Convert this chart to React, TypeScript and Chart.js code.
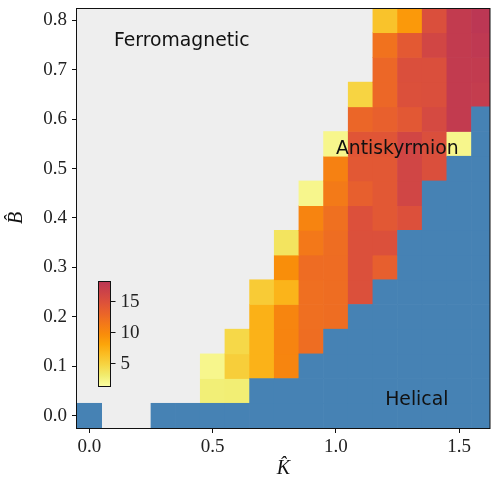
import React, { useEffect, useRef } from 'react';
import { Chart, registerables } from 'chart.js';

Chart.register(...registerables);

// ---------------- data ----------------
const kValues = [0, 0.1, 0.2, 0.3, 0.4, 0.5, 0.6, 0.7, 0.8, 0.9, 1.0, 1.1, 1.2, 1.3, 1.4, 1.5, 1.6];
const bValues = [0, 0.05, 0.1, 0.15, 0.2, 0.25, 0.3, 0.35, 0.4, 0.45, 0.5, 0.55, 0.6, 0.65, 0.7, 0.75, 0.8];

// 'F' = ferromagnetic, 'H' = helical, number = antiskyrmion colour value
const F = 'F';
const H = 'H';
const rowB000 = [H, F, F, H, H, H, H, H, H, H, H, H, H, H, H, H, H];
const rowB005 = [F, F, F, F, F, 2.7, 2.8, H, H, H, H, H, H, H, H, H, H];
const rowB010 = [F, F, F, F, F, 2.0, 5.2, 7.1, 10.2, H, H, H, H, H, H, H, H];
const rowB015 = [F, F, F, F, F, F, 4.5, 7.1, 10.3, 12.2, H, H, H, H, H, H, H];
const rowB020 = [F, F, F, F, F, F, F, 7.2, 10.2, 12.1, 12.2, H, H, H, H, H, H];
const rowB025 = [F, F, F, F, F, F, F, 5.4, 7.0, 12.1, 12.2, 14.9, H, H, H, H, H];
const rowB030 = [F, F, F, F, F, F, F, F, 9.5, 12.3, 12.3, 14.9, 13.4, H, H, H, H];
const rowB035 = [F, F, F, F, F, F, F, F, 3.6, 11.3, 12.2, 14.9, 14.9, H, H, H, H];
const rowB040 = [F, F, F, F, F, F, F, F, F, 10.3, 12.0, 14.8, 14.1, 14.8, H, H, H];
const rowB045 = [F, F, F, F, F, F, F, F, F, 2.0, 11.2, 13.4, 14.1, 16.1, H, H, H];
const rowB050 = [F, F, F, F, F, F, F, F, F, F, 10.6, 14.1, 14.1, 16.1, 15.0, H, H];
const rowB055 = [F, F, F, F, F, F, F, F, F, F, 2.0, 14.3, 14.3, 16.0, 15.0, 2.0, H];
const rowB060 = [F, F, F, F, F, F, F, F, F, F, F, 12.8, 13.3, 14.1, 15.6, 17.5, H];
const rowB065 = [F, F, F, F, F, F, F, F, F, F, F, 4.8, 12.7, 14.9, 15.0, 17.5, 17.3];
const rowB070 = [F, F, F, F, F, F, F, F, F, F, F, F, 12.7, 15.0, 15.0, 17.5, 17.5];
const rowB075 = [F, F, F, F, F, F, F, F, F, F, F, F, 11.8, 14.0, 16.0, 17.5, 17.8];
const rowB080 = [F, F, F, F, F, F, F, F, F, F, F, F, 6.0, 8.8, 15.0, 17.5, 18.2];

const phaseRows = [
  rowB000, rowB005, rowB010, rowB015, rowB020, rowB025, rowB030, rowB035, rowB040,
  rowB045, rowB050, rowB055, rowB060, rowB065, rowB070, rowB075, rowB080,
];

const xTicks = [0, 0.5, 1.0, 1.5];
const yTicks = [0, 0.1, 0.2, 0.3, 0.4, 0.5, 0.6, 0.7, 0.8];
const xRange = [-0.05, 1.625];
const yRange = [-0.025, 0.825];
const colorbarTicks = [5, 10, 15];
const colorbarRange = [1.2, 18.1];

const phaseLabels = [
  { text: 'Ferromagnetic', k: 0.1, b: 0.749 },
  { text: 'Antiskyrmion', k: 1.0, b: 0.53 },
  { text: 'Helical', k: 1.2, b: 0.021 },
];

// ---------------- style ----------------
const CMAP = ['#fcffa4', '#f1ed71', '#f6d746', '#fabf26', '#fca50a', '#f98c0a', '#f37819', '#ea632a', '#dd513a', '#cd4347', '#bc3754'];
const HELICAL_COLOR = '#4682b4';
const BG_COLOR = '#eeeeee';
const TICK_FONT = { family: 'Liberation Serif', size: 19 };
const TITLE_FONT = { family: 'Liberation Serif', style: 'italic' as const, size: 20, lineHeight: 1 };

function hexToRgb(h: string) {
  const n = parseInt(h.slice(1), 16);
  return [(n >> 16) & 255, (n >> 8) & 255, n & 255];
}
function colorAt(n: number) {
  const t = Math.max(0, Math.min(1, n)) * (CMAP.length - 1);
  const i = Math.min(CMAP.length - 2, Math.floor(t));
  const f = t - i;
  const a = hexToRgb(CMAP[i]);
  const b = hexToRgb(CMAP[i + 1]);
  const c = a.map((v, j) => Math.round(v + (b[j] - v) * f));
  return `rgb(${c[0]},${c[1]},${c[2]})`;
}
function colorFor(v: number) {
  return colorAt((v - colorbarRange[0]) / (colorbarRange[1] - colorbarRange[0]));
}

const half = (bValues[1] - bValues[0]) / 2;
const helicalCells: any[] = [];
const skyrmionCells: any[] = [];
phaseRows.forEach((row, i) => {
  row.forEach((cell, j) => {
    const pt = { x: kValues[j], y: [bValues[i] - half, bValues[i] + half], v: cell };
    if (cell === H) helicalCells.push(pt);
    else if (typeof cell === 'number') skyrmionCells.push(pt);
  });
});

const decorPlugin = {
  id: 'decor',
  beforeDraw(chart: any) {
    const { ctx, chartArea: a } = chart;
    ctx.save();
    ctx.fillStyle = BG_COLOR;
    ctx.fillRect(a.left, a.top, a.right - a.left, a.bottom - a.top);
    ctx.restore();
  },
  afterDatasetsDraw(chart: any) {
    const { ctx, scales } = chart;
    ctx.save();
    ctx.font = '18.8px "DejaVu Sans"';
    ctx.fillStyle = '#111';
    ctx.textAlign = 'left';
    ctx.textBaseline = 'alphabetic';
    phaseLabels.forEach((l) => {
      ctx.fillText(l.text, scales.x.getPixelForValue(l.k), scales.y.getPixelForValue(l.b));
    });
    ctx.restore();
  },
  afterDraw(chart: any) {
    const { ctx, chartArea: a } = chart;
    const w = a.right - a.left;
    const h = a.bottom - a.top;
    ctx.save();
    // spines
    ctx.strokeStyle = '#111';
    ctx.lineWidth = 1;
    ctx.strokeRect(a.left - 0.5, a.top + 0.5, w + 0.5, h);
    // colour bar
    const cl = Math.round(a.left + 0.05 * w) + 0.5;
    const cw = Math.round(0.03 * w);
    const cb = Math.round(a.bottom - 0.1 * h) + 0.5;
    const ch = Math.round(0.25 * h);
    const ct = cb - ch;
    const grad = ctx.createLinearGradient(0, cb, 0, ct);
    for (let i = 0; i <= 40; i++) grad.addColorStop(i / 40, colorAt(i / 40));
    ctx.fillStyle = grad;
    ctx.fillRect(cl, ct, cw, ch);
    ctx.strokeStyle = '#111';
    ctx.strokeRect(cl, ct, cw, ch);
    ctx.font = `${TICK_FONT.size}px "${TICK_FONT.family}"`;
    ctx.fillStyle = '#222';
    ctx.textAlign = 'left';
    ctx.textBaseline = 'middle';
    colorbarTicks.forEach((v) => {
      const yy = cb - ((v - colorbarRange[0]) / (colorbarRange[1] - colorbarRange[0])) * ch;
      const yp = Math.round(yy) + 0.5;
      ctx.beginPath();
      ctx.moveTo(cl + cw, yp);
      ctx.lineTo(cl + cw + 5, yp);
      ctx.stroke();
      ctx.fillText(String(v), cl + cw + 10, yy + 1);
    });
    ctx.restore();
  },
};

export default function App() {
  const ref = useRef<HTMLCanvasElement | null>(null);
  useEffect(() => {
    if (!ref.current) return;
    const axisCommon = {
      type: 'linear' as const,
      offset: false,
      grid: { drawOnChartArea: false, drawTicks: true, tickLength: 5, color: '#111', offset: false },
      border: { display: false },
    };
    const chart = new Chart(ref.current, {
      type: 'bar',
      data: {
        datasets: [
          {
            label: 'Helical',
            data: helicalCells,
            backgroundColor: HELICAL_COLOR,
            borderWidth: 0,
            grouped: false,
            categoryPercentage: 1,
            barPercentage: 1,
          } as any,
          {
            label: 'Antiskyrmion',
            data: skyrmionCells,
            backgroundColor: (c: any) => (c.raw && typeof c.raw.v === 'number' ? colorFor(c.raw.v) : '#fca50a'),
            borderWidth: 0,
            grouped: false,
            categoryPercentage: 1,
            barPercentage: 1,
          } as any,
        ],
      },
      options: {
        responsive: false,
        maintainAspectRatio: false,
        animation: false,
        devicePixelRatio: 1,
        layout: { padding: { left: 0, top: 8, right: 1, bottom: 0 } },
        plugins: { legend: { display: false }, tooltip: { enabled: false } },
        scales: {
          x: {
            ...axisCommon,
            min: xRange[0],
            max: xRange[1],
            afterBuildTicks: (s: any) => { s.ticks = xTicks.map((v) => ({ value: v })); },
            afterFit: (s: any) => { s.height = 51; s.paddingLeft = 0; s.paddingRight = 0; },
            ticks: { font: TICK_FONT, color: '#222', padding: 3, maxRotation: 0, autoSkip: false, callback: (v: any) => Number(v).toFixed(1) },
            title: { display: true, text: 'K\u0302', font: TITLE_FONT, color: '#111', padding: { top: 0, bottom: 0 } },
          },
          y: {
            ...axisCommon,
            min: yRange[0],
            max: yRange[1],
            afterBuildTicks: (s: any) => { s.ticks = yTicks.map((v) => ({ value: v })); },
            afterFit: (s: any) => { s.width = 77; s.paddingTop = 0; s.paddingBottom = 0; },
            ticks: { font: TICK_FONT, color: '#222', padding: 5, autoSkip: false, callback: (v: any) => Number(v).toFixed(1) },
            title: { display: true, text: 'B\u0302', font: TITLE_FONT, color: '#111', padding: { top: 7, bottom: 0 } },
          },
        },
      } as any,
      plugins: [decorPlugin],
    });
    return () => chart.destroy();
  }, []);
  return (
    <div style={{ position: 'absolute', left: 0, top: 0, width: 491, height: 479 }}>
      <canvas ref={ref} width={491} height={479} style={{ display: 'block' }} />
    </div>
  );
}
